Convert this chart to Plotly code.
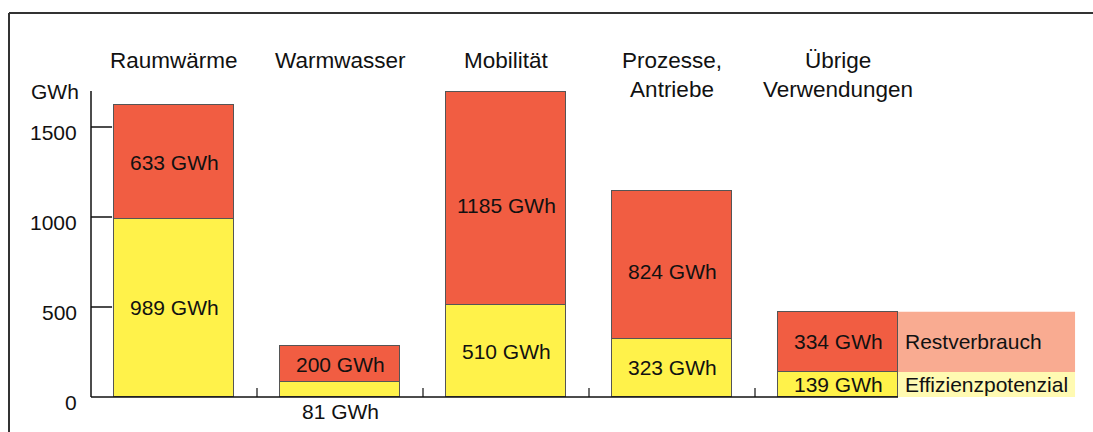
import plotly.graph_objects as go

categories = ["Raumwärme", "Warmwasser", "Mobilität", "Prozesse,<br>Antriebe", "Übrige<br>Verwendungen"]
effizienz = [989, 81, 510, 323, 139]
rest = [633, 200, 1185, 824, 334]
y_ticks = [0, 500, 1000, 1500]
unit = "GWh"
legend_names = ["Restverbrauch", "Effizienzpotenzial"]

RED = "#F15D42"
YEL = "#FFF24A"
PINK = "#F9AB91"
LYEL = "#FFFAB2"
EDGE = "#555555"
FONT = "Liberation Sans, Arial, Helvetica, sans-serif"
W, H = 1093, 432
BARW = 0.723
NUM = 21
CAT = 22.5

xs = list(range(len(categories)))

fig = go.Figure()
fig.add_trace(go.Bar(x=xs, y=effizienz, width=BARW, marker=dict(color=YEL, line=dict(color=EDGE, width=1.5)),
                     name=legend_names[1], showlegend=False, hoverinfo="skip"))
fig.add_trace(go.Bar(x=xs, y=rest, width=BARW, marker=dict(color=RED, line=dict(color=EDGE, width=1.5)),
                     name=legend_names[0], showlegend=False, hoverinfo="skip"))

shapes = []
ann = []

# legend boxes extending the last bar
last = len(categories) - 1
lx0 = last + BARW / 2
lx1 = 5.428
shapes.append(dict(type="rect", xref="x", yref="y", x0=lx0, x1=lx1, y0=effizienz[last], y1=effizienz[last] + rest[last],
                   fillcolor=PINK, line=dict(width=0), layer="below"))
shapes.append(dict(type="rect", xref="x", yref="y", x0=lx0, x1=lx1, y0=0, y1=effizienz[last],
                   fillcolor=LYEL, line=dict(width=0), layer="below"))
ann.append(dict(x=lx0, y=effizienz[last] + rest[last] / 2, text=legend_names[0], xanchor="left", yanchor="middle",
                xshift=5, showarrow=False, font=dict(size=NUM, color="#111", family=FONT)))
ann.append(dict(x=lx0, y=effizienz[last] / 2, text=legend_names[1], xanchor="left", yanchor="middle",
                xshift=5, showarrow=False, font=dict(size=NUM, color="#111", family=FONT)))

# y axis line and ticks
ytop = 1700
shapes.append(dict(type="line", xref="x", yref="y", x0=-0.5, x1=-0.5, y0=0, y1=ytop, line=dict(color="#111", width=1.5)))
for t in y_ticks:
    if t > 0:
        shapes.append(dict(type="line", xref="x", yref="y", x0=-0.5, x1=-0.373, y0=t, y1=t, line=dict(color="#111", width=1.5)))
    ann.append(dict(x=-0.5, y=t, text=str(t), xanchor="right", yanchor="middle", xshift=-12, yshift=-5,
                    showarrow=False, font=dict(size=NUM, color="#111", family=FONT)))
ann.append(dict(x=-0.5, y=ytop, text=unit, xanchor="right", yanchor="middle", xshift=-10,
                showarrow=False, font=dict(size=NUM, color="#111", family=FONT)))

# baseline and separator ticks
shapes.append(dict(type="line", xref="x", yref="y", x0=-0.5, x1=last + BARW / 2, y0=0, y1=0, line=dict(color="#111", width=1.5)))
for i in range(len(categories) - 1):
    shapes.append(dict(type="line", xref="x", yref="y", x0=i + 0.5, x1=i + 0.5, y0=0, y1=50, line=dict(color="#111", width=1.2)))

# value labels
shift_rest = [0, 0, -7, -7, 0]
for i in xs:
    e, r = effizienz[i], rest[i]
    if e < 100:
        ann.append(dict(x=i, y=0, text=f"{e} {unit}", yanchor="top", yshift=-1, showarrow=False,
                        font=dict(size=NUM, color="#111", family=FONT)))
    else:
        ann.append(dict(x=i, y=e / 2, text=f"{e} {unit}", yanchor="middle", showarrow=False,
                        font=dict(size=NUM, color="#111", family=FONT)))
    ann.append(dict(x=i, y=e + r / 2, text=f"{r} {unit}", yanchor="middle", yshift=shift_rest[i], showarrow=False,
                    font=dict(size=NUM, color="#111", family=FONT)))

# category headers
for i, c in enumerate(categories):
    ann.append(dict(x=i, y=1950, text=c, yanchor="top", xanchor="center", showarrow=False,
                    font=dict(size=CAT, color="#111", family=FONT)))

# outer frame (top and left edges)
shapes.append(dict(type="line", xref="paper", yref="paper", x0=9 / W, x1=1.01, y0=1 - 13 / H, y1=1 - 13 / H,
                   line=dict(color="#333", width=2)))
shapes.append(dict(type="line", xref="paper", yref="paper", x0=9 / W, x1=9 / W, y0=1 - 13 / H, y1=-0.01,
                   line=dict(color="#333", width=2)))

fig.update_layout(
    width=W, height=H, margin=dict(l=0, r=0, t=0, b=0),
    paper_bgcolor="white", plot_bgcolor="white",
    barmode="stack", bargap=0,
    xaxis=dict(range=[-174 / 166, (W - 174) / 166], visible=False, fixedrange=True),
    yaxis=dict(range=[-35 / 0.18, 397 / 0.18], visible=False, fixedrange=True),
    shapes=shapes, annotations=ann, showlegend=False,
    font=dict(family=FONT),
)

fig.write_html("out.html", config={"displayModeBar": False})
with open("out.html", encoding="utf-8") as f:
    html = f.read()
html = html.replace("<head>", "<head><style>html,body{margin:0;padding:0;overflow:hidden;}</style>", 1)
with open("out.html", "w", encoding="utf-8") as f:
    f.write(html)
